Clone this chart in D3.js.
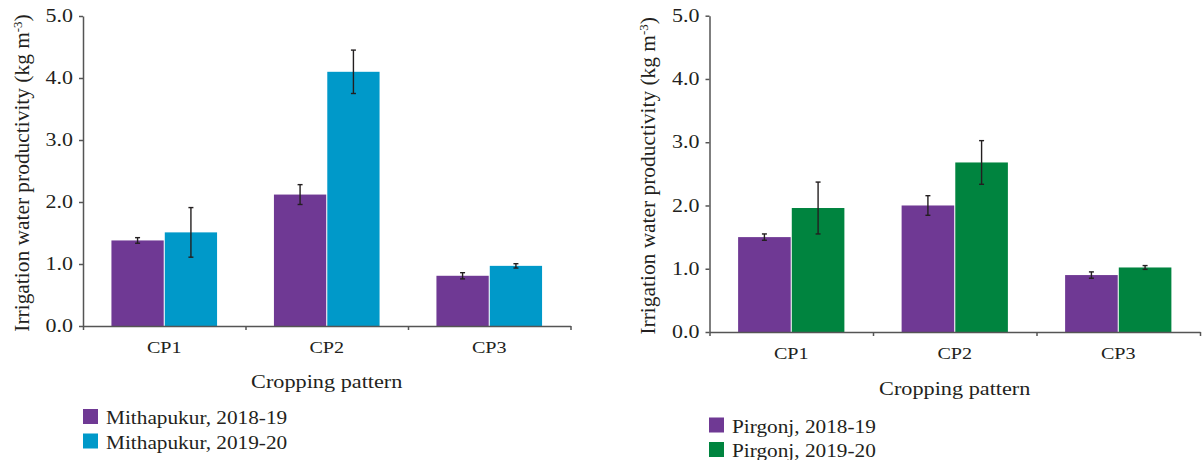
<!DOCTYPE html>
<html>
<head>
<meta charset="utf-8">
<script src="https://cdn.jsdelivr.net/npm/d3@7"></script>
<style>
  html, body { margin: 0; padding: 0; background: #fff; }
  svg { display: block; }
  text { font-family: "Liberation Serif", "DejaVu Serif", serif; fill: #231f20; }
</style>
</head>
<body>
<svg id="chart" width="1202" height="460"></svg>
<script>
// Data
const categories = ["CP1", "CP2", "CP3"];
const yTicks = [0, 1, 2, 3, 4, 5];

const mithapukur1819 = [1.38, 2.12, 0.81];
const mithapukur1819Err = [0.045, 0.16, 0.05];
const mithapukur1920 = [1.51, 4.10, 0.97];
const mithapukur1920Err = [0.40, 0.35, 0.035];

const pirgonj1819 = [1.50, 2.00, 0.90];
const pirgonj1819Err = [0.05, 0.155, 0.05];
const pirgonj1920 = [1.96, 2.68, 1.02];
const pirgonj1920Err = [0.41, 0.345, 0.03];

const seriesLabelsLeft = ["Mithapukur, 2018-19", "Mithapukur, 2019-20"];
const seriesLabelsRight = ["Pirgonj, 2018-19", "Pirgonj, 2019-20"];

const PURPLE = "#6f3994", CYAN = "#0099c9", GREEN = "#00843f";

const svg = d3.select("#chart");

// the original face is wider than Liberation Serif, so stretch text a little
function stretch(sel, k) {
    sel.each(function () {
        const len = this.getComputedTextLength();
        d3.select(this).attr("textLength", len * k).attr("lengthAdjust", "spacingAndGlyphs");
    });
}

function drawPanel(opts) {
    const g = svg.append("g");
    const x = d3.scaleBand().domain(categories).range([opts.x0, opts.x1]).padding(0);
    const y = d3.scaleLinear().domain([0, 5]).range([opts.yBottom, opts.yTop]);

    const groupW = x.bandwidth() * 0.65;
    const x1 = d3.scaleBand().domain([0, 1]).range([0, groupW]).paddingInner(0.02);

    const series = opts.series; // [{values, errs, color}]

    // bars
    series.forEach((s, si) => {
        g.append("g").selectAll("rect")
            .data(categories)
            .enter().append("rect")
            .attr("x", (c) => x(c) + (x.bandwidth() - groupW) / 2 + x1(si))
            .attr("width", x1.bandwidth())
            .attr("y", (c, i) => y(s.values[i]))
            .attr("height", (c, i) => y(0) - y(s.values[i]))
            .style("fill", s.color);
    });

    // error bars
    series.forEach((s, si) => {
        const eg = g.append("g").attr("stroke", "#231f20").attr("stroke-width", 1.4);
        categories.forEach((c, i) => {
            const cx = x(c) + (x.bandwidth() - groupW) / 2 + x1(si) + x1.bandwidth() / 2;
            const hi = y(s.values[i] + s.errs[i]);
            const lo = y(s.values[i] - s.errs[i]);
            eg.append("line").attr("x1", cx).attr("x2", cx).attr("y1", hi).attr("y2", lo);
            eg.append("line").attr("x1", cx - 2.5).attr("x2", cx + 2.5).attr("y1", hi).attr("y2", hi);
            eg.append("line").attr("x1", cx - 2.5).attr("x2", cx + 2.5).attr("y1", lo).attr("y2", lo);
        });
    });

    // y axis
    const yAxis = g.append("g")
        .attr("transform", `translate(${opts.x0},0)`)
        .call(d3.axisLeft(y).tickValues(yTicks).tickFormat(d3.format(".1f")).tickSize(4).tickSizeOuter(0));
    yAxis.selectAll("text").attr("x", -10).style("font-size", "18px")
        .style("font-family", "'Liberation Serif', serif").style("fill", "#231f20")
        .call(stretch, 1.22);

    // x axis: boundary ticks + category labels
    const xb = d3.scaleLinear().domain([0, categories.length]).range([opts.x0, opts.x1]);
    const xAxis = g.append("g")
        .attr("transform", `translate(0,${opts.yBottom})`)
        .call(d3.axisBottom(xb).tickValues(d3.range(categories.length + 1)).tickFormat("").tickSize(4).tickSizeOuter(0));
    const xLab = g.append("g")
        .attr("transform", `translate(0,${opts.yBottom})`)
        .call(d3.axisBottom(x).tickSize(0).tickPadding(15));
    xLab.select(".domain").remove();
    xLab.selectAll("text").style("font-size", "17.5px")
        .style("font-family", "'Liberation Serif', serif").style("fill", "#231f20")
        .call(stretch, 1.15);

    [yAxis, xAxis].forEach(a => {
        a.selectAll("path, line").attr("stroke", "#555").attr("stroke-width", 1.5);
    });

    // axis titles
    const yt = g.append("text")
        .attr("transform", `translate(${opts.yTitleX},${(opts.yTop + opts.yBottom) / 2 + 2}) rotate(-90)`)
        .attr("text-anchor", "middle")
        .style("font-size", "20px");
    yt.append("tspan").text("Irrigation water productivity (kg m");
    yt.append("tspan").attr("baseline-shift", "super").style("font-size", "12px").text("-3");
    yt.append("tspan").text(")");
    yt.call(stretch, 1.07);

    g.append("text")
        .attr("x", (opts.x0 + opts.x1) / 2)
        .attr("y", opts.xTitleY)
        .attr("text-anchor", "middle")
        .style("font-size", "19px")
        .text("Cropping pattern")
        .call(stretch, 1.17);

    // legend
    const lg = g.append("g");
    series.forEach((s, si) => {
        const ly = opts.legendY + si * opts.legendStep;
        lg.append("rect").attr("x", opts.legendX).attr("y", ly - 15).attr("width", 15).attr("height", 15)
            .style("fill", s.color);
        lg.append("text").attr("x", opts.legendX + 23).attr("y", ly)
            .style("font-size", "19px").text(opts.labels[si])
            .call(stretch, 1.12);
    });
}

drawPanel({
    x0: 83, x1: 570.5, yBottom: 326, yTop: 16,
    yTitleX: 29, xTitleY: 388,
    legendX: 83, legendY: 424, legendStep: 24.5,
    labels: seriesLabelsLeft,
    series: [
        { values: mithapukur1819, errs: mithapukur1819Err, color: PURPLE },
        { values: mithapukur1920, errs: mithapukur1920Err, color: CYAN }
    ]
});

drawPanel({
    x0: 709.5, x1: 1200, yBottom: 332, yTop: 15.7,
    yTitleX: 655, xTitleY: 395,
    legendX: 709, legendY: 432.5, legendStep: 24.5,
    labels: seriesLabelsRight,
    series: [
        { values: pirgonj1819, errs: pirgonj1819Err, color: PURPLE },
        { values: pirgonj1920, errs: pirgonj1920Err, color: GREEN }
    ]
});
</script>
</body>
</html>
